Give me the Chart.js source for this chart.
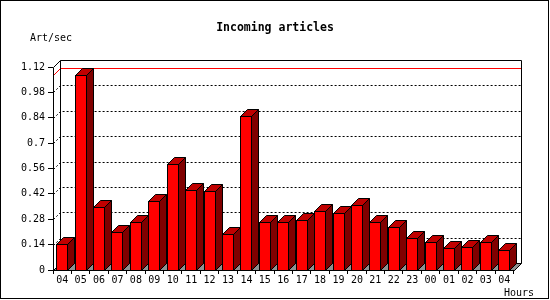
<!DOCTYPE html>
<html>
<head>
<meta charset="utf-8">
<title>Incoming articles</title>
<script src="https://cdn.jsdelivr.net/npm/chart.js@4/dist/chart.umd.min.js"></script>
<style>
  html, body { margin: 0; padding: 0; background: #fff; }
  #wrap { width: 550px; height: 300px; }
</style>
</head>
<body>
<div id="wrap"><canvas id="c" width="550" height="300"></canvas></div>
<script>
'use strict';

// hours of the day, oldest first
const hours = ['04','05','06','07','08','09','10','11','12','13','14','15','16',
               '17','18','19','20','21','22','23','00','01','02','03','04'];

// articles per second
const artPerSec = [0.145, 1.075, 0.346, 0.208, 0.263, 0.382, 0.583, 0.443, 0.434,
                   0.197, 0.851, 0.263, 0.263, 0.274, 0.324, 0.313, 0.357, 0.263,
                   0.236, 0.175, 0.153, 0.120, 0.125, 0.153, 0.109];

const yTicks      = [0, 0.14, 0.28, 0.42, 0.56, 0.7, 0.84, 0.98, 1.12];
const yTickLabels = ['0','0.14','0.28','0.42','0.56','0.7','0.84','0.98','1.12'];

const peakValue = Math.max(...artPerSec);

const FONT = '"DejaVu Sans Mono", "Liberation Mono", monospace';
const DEPTH = 7;        // 3D offset, px
const FRONT_W = 11;     // bar front width, px

// walls, floor, grid and peak line behind the bars; bar faces on top
const threeD = {
  id: 'threeD',
  beforeDatasetsDraw(chart) {
    const ctx = chart.ctx;
    const a = chart.chartArea;
    const y = chart.scales.y;
    const L = Math.round(a.left) + 0.5, R = Math.round(a.right) + 0.5;
    const T = Math.round(a.top) + 0.5, B = Math.round(a.bottom) + 0.5;
    ctx.save();
    ctx.lineWidth = 1;

    // floor
    ctx.fillStyle = '#909090';
    ctx.strokeStyle = '#000';
    ctx.beginPath();
    ctx.moveTo(L, B); ctx.lineTo(R, B); ctx.lineTo(R + DEPTH, B - DEPTH); ctx.lineTo(L + DEPTH, B - DEPTH);
    ctx.closePath();
    ctx.fill();
    ctx.stroke();

    // dotted grid on back wall
    ctx.setLineDash([2, 2]);
    yTicks.slice(1, -1).forEach(v => {
      const py = Math.round(y.getPixelForValue(v)) + 0.5;
      ctx.beginPath();
      ctx.moveTo(L, py); ctx.lineTo(L + DEPTH, py - DEPTH);
      ctx.lineTo(R + DEPTH, py - DEPTH);
      ctx.stroke();
    });
    ctx.setLineDash([]);

    // peak line
    const pk = Math.round(y.getPixelForValue(peakValue)) + 0.5;
    ctx.strokeStyle = '#ff0000';
    ctx.beginPath();
    ctx.moveTo(L, pk); ctx.lineTo(L + DEPTH, pk - DEPTH); ctx.lineTo(R + DEPTH, pk - DEPTH);
    ctx.stroke();

    // frame
    ctx.strokeStyle = '#000';
    ctx.beginPath();
    ctx.moveTo(L, B); ctx.lineTo(L, T); ctx.lineTo(L + DEPTH, T - DEPTH);
    ctx.lineTo(R + DEPTH, T - DEPTH); ctx.lineTo(R + DEPTH, B - DEPTH);
    ctx.moveTo(L + DEPTH, T - DEPTH); ctx.lineTo(L + DEPTH, B - DEPTH);
    ctx.stroke();
    ctx.restore();
  },
  afterDatasetsDraw(chart) {
    const ctx = chart.ctx;
    const meta = chart.getDatasetMeta(0);
    const B = Math.round(chart.chartArea.bottom);
    ctx.save();
    ctx.lineWidth = 1;
    ctx.strokeStyle = '#000';
    meta.data.forEach(el => {
      const x0 = Math.floor(el.x - FRONT_W / 2) + 0.5;
      const x1 = x0 + FRONT_W;
      const t = Math.round(el.y) + 0.5;
      const b = B + 0.5;
      // side
      ctx.fillStyle = '#800000';
      ctx.beginPath();
      ctx.moveTo(x1, t); ctx.lineTo(x1 + DEPTH, t - DEPTH); ctx.lineTo(x1 + DEPTH, b - DEPTH); ctx.lineTo(x1, b);
      ctx.closePath(); ctx.fill(); ctx.stroke();
      // top
      ctx.fillStyle = '#c00000';
      ctx.beginPath();
      ctx.moveTo(x0, t); ctx.lineTo(x0 + DEPTH, t - DEPTH); ctx.lineTo(x1 + DEPTH, t - DEPTH); ctx.lineTo(x1, t);
      ctx.closePath(); ctx.fill(); ctx.stroke();
      // front
      ctx.fillStyle = '#ff0000';
      ctx.fillRect(x0, t, FRONT_W, b - t);
      ctx.strokeRect(x0, t, FRONT_W, b - t);
    });
    // front floor edge
    const a = chart.chartArea;
    ctx.beginPath();
    ctx.moveTo(Math.round(a.left) + 0.5, B + 0.5);
    ctx.lineTo(Math.round(a.right) + 0.5, B + 0.5);
    ctx.stroke();
    ctx.restore();
  },
  afterDraw(chart) {
    const ctx = chart.ctx;
    ctx.save();
    ctx.fillStyle = '#000';
    ctx.textBaseline = 'alphabetic';
    ctx.font = 'bold 11.5px ' + FONT;
    ctx.textAlign = 'center';
    ctx.fillText('Incoming articles', 275, 31);
    ctx.font = '10px ' + FONT;
    ctx.textAlign = 'left';
    ctx.fillText('Art/sec', 30, 41);
    ctx.textAlign = 'right';
    ctx.fillText('Hours', 534, 296);
    ctx.strokeStyle = '#000';
    ctx.lineWidth = 1;
    ctx.strokeRect(0.5, 0.5, 548, 298);
    ctx.restore();
  }
};

const whiteBg = {
  id: 'whiteBg',
  beforeDraw(chart) {
    const ctx = chart.ctx;
    ctx.save();
    ctx.fillStyle = '#fff';
    ctx.fillRect(0, 0, chart.width, chart.height);
    ctx.restore();
  }
};

new Chart(document.getElementById('c').getContext('2d'), {
  type: 'bar',
  data: {
    labels: hours,
    datasets: [{
      label: 'Art/sec',
      data: artPerSec,
      backgroundColor: '#ff0000',
      borderWidth: 0,
      categoryPercentage: 1,
      barPercentage: 0.6
    }]
  },
  options: {
    responsive: false,
    animation: false,
    events: [],
    layout: { padding: { left: 0, top: 67, right: 36.5, bottom: 0 } },
    plugins: { legend: { display: false }, tooltip: { enabled: false }, title: { display: false } },
    scales: {
      x: {
        type: 'category',
        offset: true,
        border: { display: false },
        grid: { offset: true, drawOnChartArea: false, drawTicks: true, tickLength: 4, tickColor: '#000', color: '#000' },
        ticks: { color: '#000', font: { family: FONT, size: 10 }, padding: 0, autoSkip: false, maxRotation: 0, minRotation: 0 },
        afterFit(scale) { scale.height = 30; }
      },
      y: {
        min: 0,
        max: 1.12,
        border: { display: false },
        grid: { drawOnChartArea: false, drawTicks: true, tickLength: 5, tickColor: '#000', color: '#000' },
        ticks: {
          color: '#000',
          font: { family: FONT, size: 10 },
          padding: 3,
          callback: (v, i) => yTickLabels[i]
        },
        afterBuildTicks(scale) { scale.ticks = yTicks.map(v => ({ value: v })); },
        afterFit(scale) { scale.width = 53; }
      }
    }
  },
  plugins: [whiteBg, threeD]
});
</script>
</body>
</html>
